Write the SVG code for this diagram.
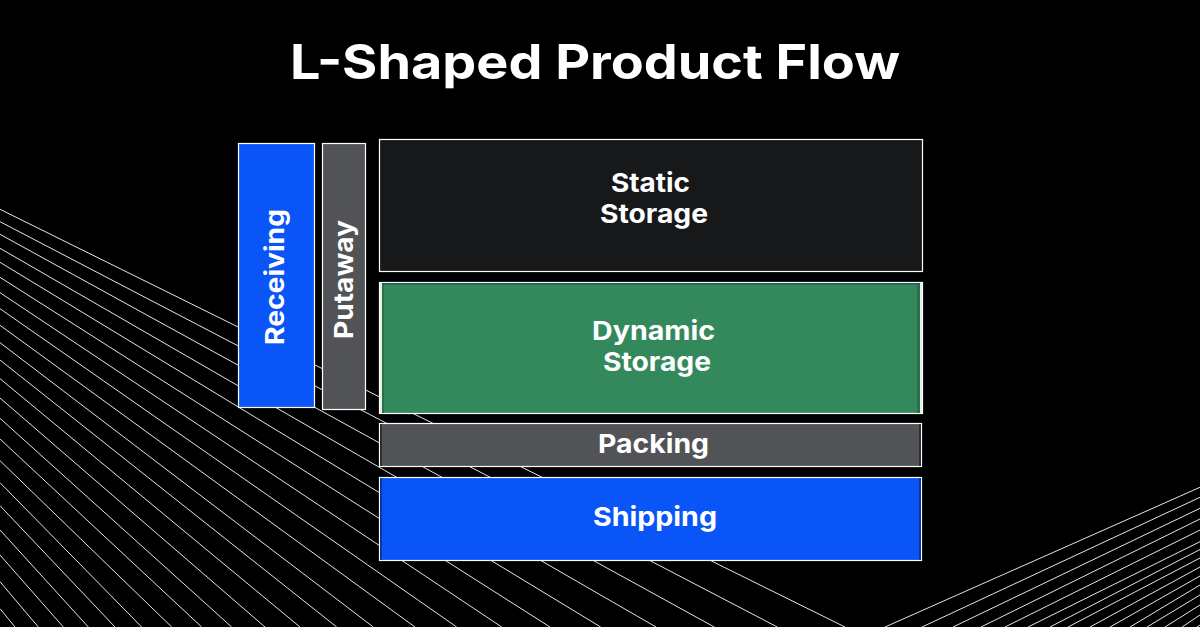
<svg xmlns="http://www.w3.org/2000/svg" width="1200" height="627" viewBox="0 0 1200 627">
<style>
text{font-family:"Inter","Liberation Sans",sans-serif;font-weight:700;fill:#fff;text-anchor:middle;font-size:26px}
.box{stroke:#fff;stroke-width:1.2}
.l{fill:none;stroke:#e4e4e4;stroke-width:1}
</style>
<rect width="1200" height="627" fill="#000"/>
<g id="connectors">
<path class="l" d="M0 209.3L845 627M0 221.7L777.300 627M0 234.300L714.300 627M0 248.300L656 627M0 262.300L600.700 627M0 277.300L550 627M0 292.700L501.700 627M0 308.700L456.700 627M0 325.300L415 627M0 342.700L373.300 627M0 360L336.700 627M0 378.700L300 627M0 398L265 627M0 418.300L231.700 627M0 439L201.700 627M0 460.700L171.700 627M0 482.700L141.700 627M0 505.700L115 627M0 530L88.300 627M0 555L63.300 627M0 581.700L38.300 627M0 608.700L15 627"/>
<path class="l" d="M885 627L1200 487.300M922 627L1200 497.300M953 627L1200 508.300M981 627L1200 519M1005 627L1200 530M1028 627L1200 541.700M1050 627L1200 549.500M1068 627L1200 558M1090 627L1200 567M1110 627L1200 576M1130 627L1200 585M1147 627L1200 595M1165 627L1200 605M1182 627L1200 615M1197 627L1200 625"/>
</g>
<g id="title"><text x="595" y="79" style="font-size:48px" textLength="610" lengthAdjust="spacingAndGlyphs">L-Shaped Product Flow</text></g>
<g id="receiving"><rect class="box" x="238.500" y="143.500" width="76" height="264" fill="#0a55f7"/><text transform="translate(284 277) rotate(-90)" textLength="136" lengthAdjust="spacingAndGlyphs">Receiving</text></g>
<g id="putaway"><rect class="box" x="322.500" y="143.500" width="43" height="266" fill="#525357"/><text transform="translate(353 279.500) rotate(-90)" textLength="119" lengthAdjust="spacingAndGlyphs">Putaway</text></g>
<g id="static-storage"><rect class="box" x="379.500" y="139.500" width="543" height="132" fill="#17181a"/><text x="650.500" y="192" textLength="79" lengthAdjust="spacingAndGlyphs">Static</text><text x="654" y="223" textLength="108" lengthAdjust="spacingAndGlyphs">Storage</text></g>
<g id="dynamic-storage"><rect class="box" x="379.500" y="282.500" width="543" height="131" fill="#34895c"/><rect x="380" y="283" width="2" height="130" fill="#e6efe9"/><rect x="382" y="283" width="2" height="130" fill="#2a7049"/><rect x="917" y="284" width="3" height="129" fill="#2a7049"/><rect x="920" y="283" width="2" height="130" fill="#e6efe9"/><rect x="382" y="283" width="538" height="1.500" fill="#245a5a"/><text x="653.500" y="340" textLength="123" lengthAdjust="spacingAndGlyphs">Dynamic</text><text x="657" y="371" textLength="108" lengthAdjust="spacingAndGlyphs">Storage</text></g>
<g id="packing"><rect class="box" x="379.500" y="423.500" width="542" height="43" fill="#525357"/><rect x="380" y="424" width="2" height="42" fill="#2e2f33"/><rect x="919" y="424" width="2" height="42" fill="#2e2f33"/><text x="653.500" y="453" textLength="111" lengthAdjust="spacingAndGlyphs">Packing</text></g>
<g id="shipping"><rect class="box" x="379.500" y="477.500" width="542" height="83" fill="#0a55f7"/><rect x="380" y="478" width="2" height="82" fill="#083a9e"/><rect x="919" y="478" width="2" height="82" fill="#083a9e"/><text x="655" y="526" textLength="124" lengthAdjust="spacingAndGlyphs">Shipping</text></g>
</svg>
